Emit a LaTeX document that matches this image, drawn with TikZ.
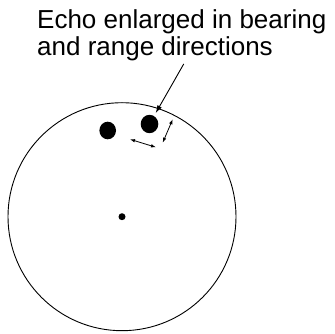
\documentclass[tikz,border=0pt]{standalone}
\usepackage{fontspec}
\setmainfont{Liberation Sans}
\usetikzlibrary{arrows.meta,shapes.geometric}

\begin{document}
\begin{tikzpicture}[
  x=1pt,y=-1pt,
  rim/.style={draw,circle,line width=0.9pt,minimum size=228pt,inner sep=0pt},
  blob/.style={ellipse,fill=black,inner sep=0pt},
  pip/.style={circle,fill=black,minimum size=7pt,inner sep=0pt},
  lead/.style={-{Latex[length=8pt,width=5pt]},line width=0.9pt,shorten >=3pt},
  span/.style={{Latex[length=5pt,width=3.5pt]}-{Latex[length=5pt,width=3.5pt]},line width=0.8pt}
]
\useasboundingbox (0,0) rectangle (334,334);
\node[rim] (scope) at (122,216.7) {};
\node[pip] (centre) at (scope.center) {};
\node[blob,minimum width=16.6pt,minimum height=17.6pt] (echoA) at (107.7,130.5) {};
\node[blob,minimum width=17.6pt,minimum height=18.4pt] (echoB) at (149.5,124) {};
\node[anchor=north west,inner sep=0pt,align=left,font=\fontsize{26}{27.3}\selectfont] (note) at (37,9)
  {Echo enlarged in bearing\\and range directions};
% bearing and range marks beside the enlarged echo
\coordinate (bearL) at ([shift={(-19.5,15.3)}]echoB.center);
\coordinate (bearR) at ([shift={(6.5,23.3)}]echoB.center);
\coordinate (rangeN) at ([shift={(13.2,18.7)}]echoB.center);
\coordinate (rangeF) at ([shift={(23.2,-4.7)}]echoB.center);
\draw[span] (bearL) -- (bearR);
\draw[span] (rangeN) -- (rangeF);
\draw[lead] ([xshift=2pt,yshift=-3pt]note.south) -- (echoB);
\end{tikzpicture}
\end{document}
